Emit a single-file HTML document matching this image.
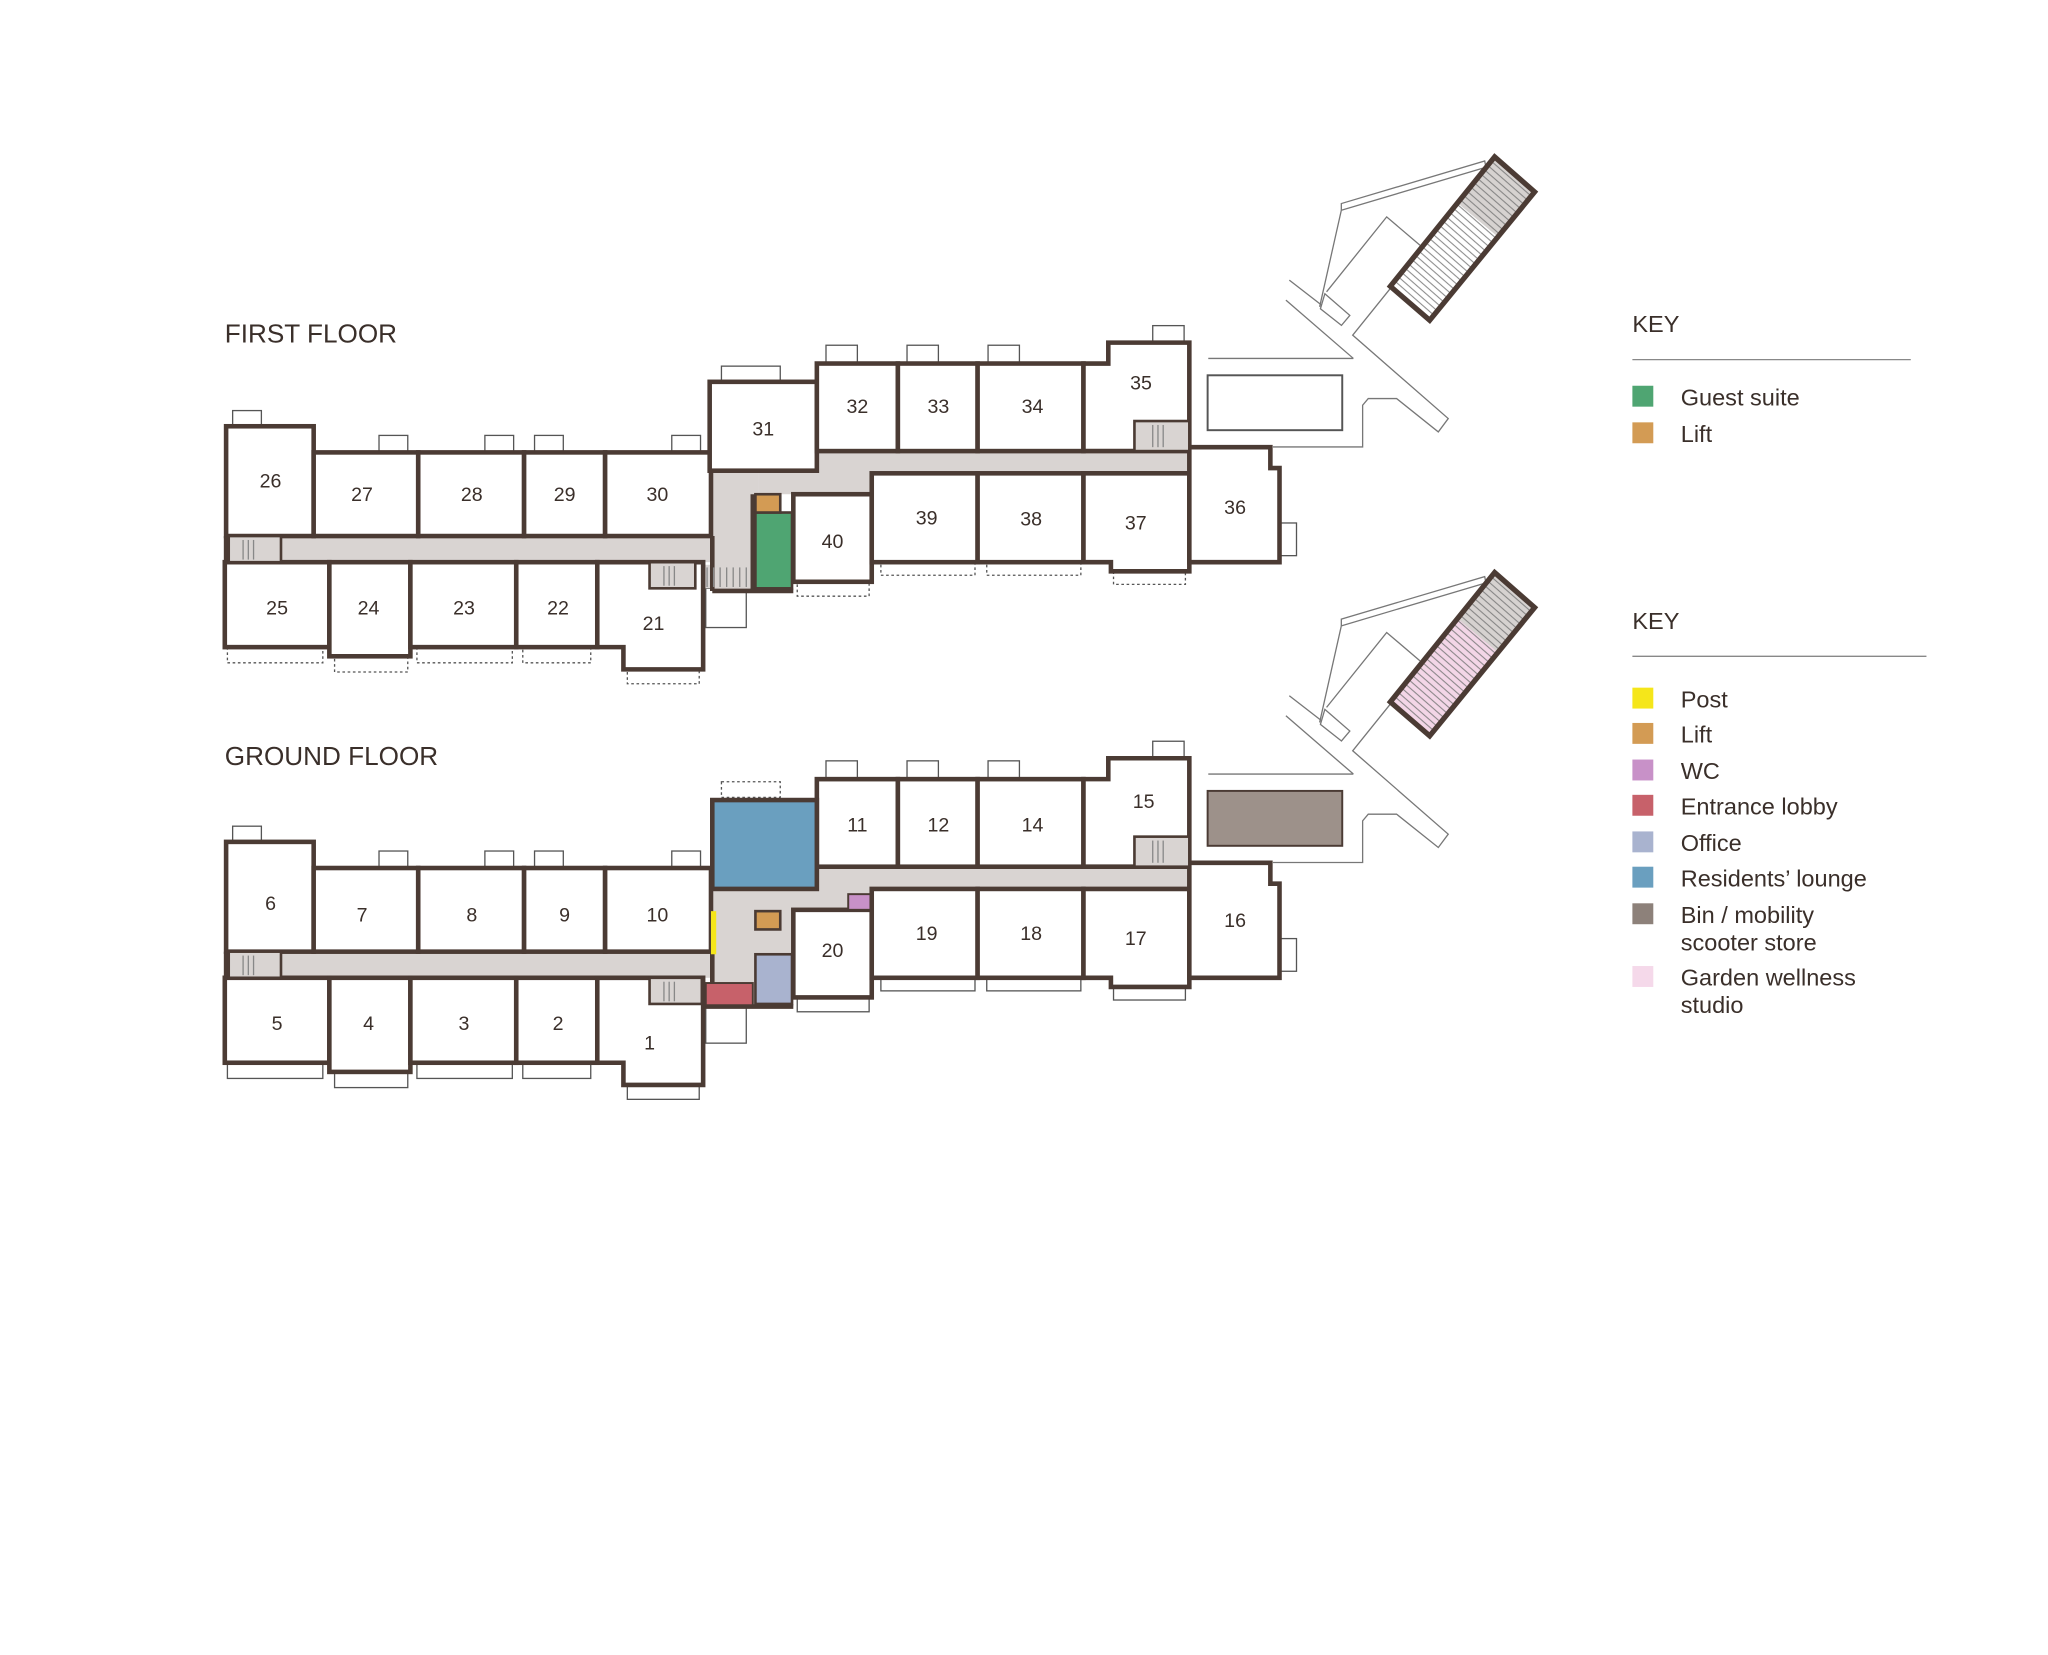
<!DOCTYPE html>
<html><head><meta charset="utf-8"><style>
html,body{margin:0;padding:0;background:#fff}
svg{display:block}
text{font-family:"Liberation Sans",sans-serif;fill:#3a2f2a}
</style></head><body>
<svg width="2048" height="1655" viewBox="0 0 1567 1266" xmlns="http://www.w3.org/2000/svg">
<defs>
<pattern id="hatch" width="10" height="4.2" patternUnits="userSpaceOnUse" patternTransform="rotate(41.2)">
<line x1="0" y1="0.5" x2="10" y2="0.5" stroke="#777" stroke-width="0.7"/>
</pattern>
<g id="site">
<g fill="none" stroke="#777" stroke-width="1">
<line x1="986.5" y1="214.2" x2="1011.2" y2="233.3"/>
<line x1="983.9" y1="229.5" x2="1035.5" y2="274.1"/>
<line x1="924.5" y1="274.1" x2="1035.5" y2="274.1"/>
<polyline points="1064.8,219.3 1035,256.3 1108.1,320.1 1100.5,330.3 1068.6,304.8 1046.9,304.8 1042.6,309.9 1042.6,341.8 974,341.8"/>
<polyline points="1015,223.1 1061,165.8 1086.5,187.5"/>
<polyline points="1009.7,234.6 1026.3,160.7 1136,128.1"/>
<polyline points="1026.3,160.7 1026.3,155.6 1136,123 1137,128"/>
<polygon points="1013.7,224.6 1032.8,241.2 1026.4,248.8 1010.3,236.1"/>
</g>
</g>
</defs>

<text x="172" y="262" font-size="20">FIRST FLOOR</text>
<text x="172" y="585" font-size="20">GROUND FLOOR</text>

<use href="#site"/>
<use href="#site" transform="translate(0,318)"/>

<polygon points="1143.6,119.9 1174.2,146.7 1093.9,244.9 1063.8,218.9" fill="url(#hatch)"/>
<polygon points="1143.6,119.9 1174.2,146.7 1146,181 1115,155" fill="#d6d2d0"/>
<polygon points="1143.6,119.9 1174.2,146.7 1146,181 1115,155" fill="url(#hatch)"/>
<polygon points="1143.6,119.9 1174.2,146.7 1093.9,244.9 1063.8,218.9" fill="none" stroke="#4b3b34" stroke-width="4"/>
<g transform="translate(0,318)">
<polygon points="1143.6,119.9 1174.2,146.7 1093.9,244.9 1063.8,218.9" fill="#f3d6e7"/>
<polygon points="1143.6,119.9 1174.2,146.7 1146,181 1115,155" fill="#d6d2d0"/>
<polygon points="1143.6,119.9 1174.2,146.7 1093.9,244.9 1063.8,218.9" fill="url(#hatch)"/>
<polygon points="1143.6,119.9 1174.2,146.7 1093.9,244.9 1063.8,218.9" fill="none" stroke="#4b3b34" stroke-width="4"/>
</g>

<rect x="924" y="287" width="103" height="42" fill="#fff" stroke="#555" stroke-width="1.5"/>
<rect x="924" y="605" width="103" height="42" fill="#9d918a" stroke="#4b3b34" stroke-width="1.5"/>

<!-- FIRST FLOOR -->
<g>
<g fill="#fff" stroke="#555" stroke-width="1">
<rect x="178" y="314" width="22" height="12"/><rect x="290" y="333" width="22" height="13"/>
<rect x="371" y="333" width="22" height="13"/><rect x="409" y="333" width="22" height="13"/>
<rect x="514" y="333" width="22" height="13"/><rect x="552" y="280" width="45" height="12"/>
<rect x="632" y="264" width="24" height="14"/><rect x="694" y="264" width="24" height="14"/>
<rect x="756" y="264" width="24" height="14"/><rect x="882" y="249" width="24" height="13"/>
<rect x="980" y="400" width="12" height="25"/><rect x="540" y="450" width="31" height="30"/>
</g>
<g fill="#fff" stroke="#555" stroke-width="1" stroke-dasharray="2,2">
<rect x="174" y="495" width="73" height="12"/><rect x="256" y="502" width="56" height="12"/>
<rect x="319" y="495" width="73" height="12"/><rect x="400" y="495" width="52" height="12"/>
<rect x="480" y="512" width="55" height="11"/><rect x="610" y="445" width="55" height="11"/>
<rect x="674" y="430" width="72" height="10"/><rect x="755" y="430" width="72" height="10"/>
<rect x="852" y="437" width="55" height="10"/>
</g>
<g fill="#d9d4d2">
<rect x="175" y="410" width="372" height="20"/>
<rect x="545" y="360" width="35" height="92"/>
<rect x="580" y="345" width="330" height="17"/>
<rect x="580" y="360" width="87" height="18"/>
<rect x="538" y="432" width="40" height="18"/>
</g>
<g fill="#fff" stroke="#4b3b34" stroke-width="3.5">
<rect x="173" y="326" width="67" height="84"/>
<rect x="240" y="346" width="80" height="64"/><rect x="320" y="346" width="81" height="64"/>
<rect x="401" y="346" width="62" height="64"/><rect x="463" y="346" width="81" height="64"/>
<rect x="172" y="430" width="80" height="65"/><rect x="252" y="430" width="62" height="72"/>
<rect x="314" y="430" width="81" height="65"/><rect x="395" y="430" width="62" height="65"/>
<polygon points="457,430 538,430 538,512 477,512 477,495 457,495"/>
<rect x="543" y="292" width="82" height="68"/>
<rect x="625" y="278" width="62" height="67"/><rect x="687" y="278" width="61" height="67"/>
<rect x="748" y="278" width="81" height="67"/>
<polygon points="829,278 848,278 848,262 910,262 910,345 829,345"/>
<rect x="607" y="378" width="60" height="67"/>
<rect x="667" y="362" width="81" height="68"/><rect x="748" y="362" width="81" height="68"/>
<polygon points="829,362 910,362 910,437 850,437 850,430 829,430"/>
<polygon points="910,342 972,342 972,358 979,358 979,430 910,430"/>
</g>
<g stroke="#4b3b34" stroke-width="3.5" fill="none">
<line x1="173" y1="410" x2="173" y2="430"/>
<line x1="545" y1="410" x2="545" y2="452"/>
<line x1="576" y1="378" x2="576" y2="452"/>
<line x1="545" y1="452" x2="607" y2="452"/>
</g>
<g stroke="#4b3b34" stroke-width="2" fill="#d9d4d2">
<rect x="175" y="410" width="40" height="20"/><rect x="497" y="430" width="35" height="20"/>
<rect x="868" y="322" width="42" height="23"/>
</g>
<g stroke="#888" stroke-width="1"><line x1="186" y1="413" x2="186" y2="428"/><line x1="190" y1="413" x2="190" y2="428"/><line x1="194" y1="413" x2="194" y2="428"/><line x1="508" y1="433" x2="508" y2="448"/><line x1="512" y1="433" x2="512" y2="448"/><line x1="516" y1="433" x2="516" y2="448"/><line x1="882" y1="325" x2="882" y2="342"/><line x1="886" y1="325" x2="886" y2="342"/><line x1="890" y1="325" x2="890" y2="342"/>
<line x1="541" y1="434" x2="541" y2="449"/><line x1="546" y1="434" x2="546" y2="449"/><line x1="551" y1="434" x2="551" y2="449"/><line x1="556" y1="434" x2="556" y2="449"/><line x1="561" y1="434" x2="561" y2="449"/><line x1="566" y1="434" x2="566" y2="449"/><line x1="571" y1="434" x2="571" y2="449"/></g>
<rect x="578" y="392" width="28" height="58" fill="#4fa572" stroke="#4b3b34" stroke-width="2"/>
<rect x="578" y="378" width="19" height="14" fill="#d39b54" stroke="#4b3b34" stroke-width="2"/>
<g font-size="15" text-anchor="middle">
<text x="207" y="373">26</text><text x="277" y="383">27</text><text x="361" y="383">28</text><text x="432" y="383">29</text><text x="503" y="383">30</text>
<text x="584" y="333">31</text><text x="656" y="316">32</text><text x="718" y="316">33</text><text x="790" y="316">34</text><text x="873" y="298">35</text>
<text x="945" y="393">36</text><text x="869" y="405">37</text><text x="789" y="402">38</text><text x="709" y="401">39</text><text x="637" y="419">40</text>
<text x="212" y="470">25</text><text x="282" y="470">24</text><text x="355" y="470">23</text><text x="427" y="470">22</text><text x="500" y="482">21</text>
</g>
</g>

<!-- GROUND FLOOR -->
<g>
<g transform="translate(0,318)">
<g fill="#fff" stroke="#555" stroke-width="1">
<rect x="290" y="333" width="22" height="13"/><rect x="371" y="333" width="22" height="13"/>
<rect x="409" y="333" width="22" height="13"/><rect x="514" y="333" width="22" height="13"/>
<rect x="980" y="400" width="12" height="25"/><rect x="540" y="450" width="31" height="30"/>
<rect x="174" y="495" width="73" height="12"/><rect x="256" y="502" width="56" height="12"/>
<rect x="319" y="495" width="73" height="12"/><rect x="400" y="495" width="52" height="12"/>
<rect x="480" y="512" width="55" height="11"/><rect x="610" y="445" width="55" height="11"/>
<rect x="674" y="430" width="72" height="10"/><rect x="755" y="430" width="72" height="10"/>
<rect x="852" y="437" width="55" height="10"/>
<rect x="178" y="314" width="22" height="12"/>
<rect x="632" y="264" width="24" height="14"/><rect x="694" y="264" width="24" height="14"/>
<rect x="756" y="264" width="24" height="14"/><rect x="882" y="249" width="24" height="13"/>
</g>
<g fill="#fff" stroke="#555" stroke-width="1" stroke-dasharray="2,2">
<rect x="552" y="280" width="45" height="12"/>
</g>
<g fill="#d9d4d2">
<rect x="175" y="410" width="372" height="20"/>
<rect x="545" y="360" width="62" height="92"/>
<rect x="580" y="345" width="330" height="17"/>
<rect x="580" y="360" width="87" height="18"/>
</g>
<g fill="#fff" stroke="#4b3b34" stroke-width="3.5">
<rect x="173" y="326" width="67" height="84"/>
<rect x="240" y="346" width="80" height="64"/><rect x="320" y="346" width="81" height="64"/>
<rect x="401" y="346" width="62" height="64"/><rect x="463" y="346" width="81" height="64"/>
<rect x="172" y="430" width="80" height="65"/><rect x="252" y="430" width="62" height="72"/>
<rect x="314" y="430" width="81" height="65"/><rect x="395" y="430" width="62" height="65"/>
<polygon points="457,430 538,430 538,512 477,512 477,495 457,495"/>
<rect x="625" y="278" width="62" height="67"/><rect x="687" y="278" width="61" height="67"/>
<rect x="748" y="278" width="81" height="67"/>
<polygon points="829,278 848,278 848,262 910,262 910,345 829,345"/>
<rect x="607" y="378" width="60" height="67"/>
<rect x="667" y="362" width="81" height="68"/><rect x="748" y="362" width="81" height="68"/>
<polygon points="829,362 910,362 910,437 850,437 850,430 829,430"/>
<polygon points="910,342 972,342 972,358 979,358 979,430 910,430"/>
</g>
<rect x="545" y="294" width="80" height="68" fill="#6a9fbf" stroke="#4b3b34" stroke-width="3.5"/>
<g stroke="#4b3b34" stroke-width="3.5" fill="none">
<line x1="173" y1="410" x2="173" y2="430"/>
<line x1="545" y1="410" x2="545" y2="452"/>
<line x1="538" y1="452" x2="607" y2="452"/>
</g>
<g stroke="#4b3b34" stroke-width="2" fill="#d9d4d2">
<rect x="175" y="410" width="40" height="20"/><rect x="497" y="430" width="40" height="20"/>
<rect x="868" y="322" width="42" height="23"/>
</g>
<g stroke="#888" stroke-width="1"><line x1="186" y1="413" x2="186" y2="428"/><line x1="190" y1="413" x2="190" y2="428"/><line x1="194" y1="413" x2="194" y2="428"/><line x1="508" y1="433" x2="508" y2="448"/><line x1="512" y1="433" x2="512" y2="448"/><line x1="516" y1="433" x2="516" y2="448"/><line x1="882" y1="325" x2="882" y2="342"/><line x1="886" y1="325" x2="886" y2="342"/><line x1="890" y1="325" x2="890" y2="342"/></g>
<rect x="578" y="379" width="19" height="14" fill="#d39b54" stroke="#4b3b34" stroke-width="2"/>
<rect x="578" y="412" width="28" height="38" fill="#a9b3cf" stroke="#4b3b34" stroke-width="2"/>
<rect x="540" y="434" width="36" height="17" fill="#c7616a" stroke="#4b3b34" stroke-width="1.5"/>
<rect x="544" y="379" width="4" height="33" fill="#f5e61a"/>
<rect x="649" y="366" width="17" height="12" fill="#c891c8" stroke="#4b3b34" stroke-width="1.5"/>
</g>
<g font-size="15" text-anchor="middle">
<text x="207" y="696">6</text><text x="277" y="705">7</text><text x="361" y="705">8</text><text x="432" y="705">9</text><text x="503" y="705">10</text>
<text x="656" y="636">11</text><text x="718" y="636">12</text><text x="790" y="636">14</text><text x="875" y="618">15</text>
<text x="945" y="709">16</text><text x="869" y="723">17</text><text x="789" y="719">18</text><text x="709" y="719">19</text><text x="637" y="732">20</text>
<text x="212" y="788">5</text><text x="282" y="788">4</text><text x="355" y="788">3</text><text x="427" y="788">2</text><text x="497" y="803">1</text>
</g>
</g>

<g font-size="18">
<text x="1249" y="254">KEY</text>
<line x1="1249" y1="275" x2="1462" y2="275" stroke="#888" stroke-width="1"/>
<rect x="1249" y="295" width="16" height="16" fill="#4fa572"/><text x="1286" y="310">Guest suite</text>
<rect x="1249" y="323" width="16" height="16" fill="#d39b54"/><text x="1286" y="338">Lift</text>

<text x="1249" y="481">KEY</text>
<line x1="1249" y1="502" x2="1474" y2="502" stroke="#888" stroke-width="1"/>
<rect x="1249" y="526" width="16" height="16" fill="#f5e61a"/><text x="1286" y="541">Post</text>
<rect x="1249" y="553" width="16" height="16" fill="#d39b54"/><text x="1286" y="568">Lift</text>
<rect x="1249" y="581" width="16" height="16" fill="#c891c8"/><text x="1286" y="596">WC</text>
<rect x="1249" y="608" width="16" height="16" fill="#c7616a"/><text x="1286" y="623">Entrance lobby</text>
<rect x="1249" y="636" width="16" height="16" fill="#a9b3cf"/><text x="1286" y="651">Office</text>
<rect x="1249" y="663" width="16" height="16" fill="#6a9fbf"/><text x="1286" y="678">Residents’ lounge</text>
<rect x="1249" y="691" width="16" height="16" fill="#8d817a"/><text x="1286" y="706">Bin / mobility</text><text x="1286" y="727">scooter store</text>
<rect x="1249" y="739" width="16" height="16" fill="#f5d9ea"/><text x="1286" y="754">Garden wellness</text><text x="1286" y="775">studio</text>
</g>
</svg>
</body></html>
